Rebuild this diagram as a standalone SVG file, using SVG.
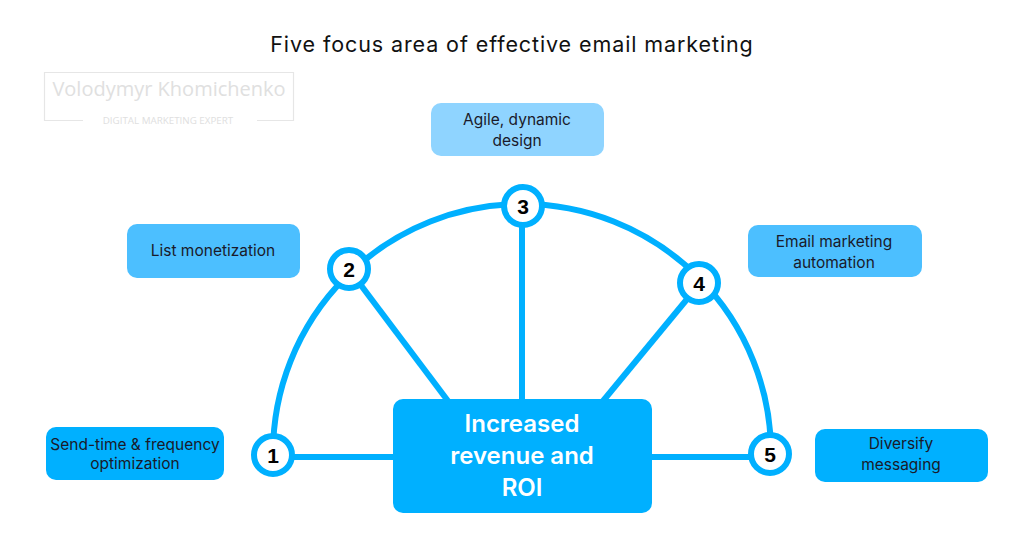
<svg xmlns="http://www.w3.org/2000/svg" width="1024" height="536" viewBox="0 0 1024 536">
<style>
.ln{fill:none;stroke:#00b0ff;stroke-width:6}
.nd{fill:#fff;stroke:#00b0ff;stroke-width:6}
.num{font-family:"Liberation Sans",Arial,sans-serif;font-weight:bold;font-size:21px;fill:#000;text-anchor:middle}
.lb{font-family:"Inter","Noto Sans",sans-serif;font-size:15.5px;fill:#1a1a2a;text-anchor:middle}
.ct{font-family:"Inter","Noto Sans",sans-serif;font-weight:600;font-size:24px;fill:#fff;text-anchor:middle}
</style>
<rect width="1024" height="536" fill="#fff"/>
<text x="512" y="52" font-family="Inter,'Noto Sans',sans-serif" font-size="21.5" letter-spacing="0.9" fill="#111" text-anchor="middle">Five focus area of effective email marketing</text>
<g id="watermark" fill="none" stroke="#e6e6e6" stroke-width="1.2">
<path d="M83 120.5 H44.5 V72.5 H293.5 V120.5 H257"/>
<text x="169" y="96" font-family="'Open Sans','Noto Sans',sans-serif" font-size="20" fill="#e0e0e0" stroke="none" text-anchor="middle">Volodymyr Khomichenko</text>
<text x="168" y="124" font-family="'Open Sans','Noto Sans',sans-serif" font-size="9.8" fill="#e0e0e0" stroke="none" text-anchor="middle">DIGITAL MARKETING EXPERT</text>
</g>
<g id="connectors">
<path class="ln" d="M273 453 A249 249 0 0 1 771 453"/>
<line class="ln" x1="273" y1="457" x2="395" y2="457"/>
<line class="ln" x1="650" y1="457" x2="771" y2="457"/>
<line class="ln" x1="351" y1="272" x2="448" y2="401"/>
<line class="ln" x1="522" y1="204" x2="522" y2="401"/>
<line class="ln" x1="702" y1="281" x2="603" y2="401"/>
</g>
<g id="center">
<rect x="393" y="399" width="259" height="114" rx="10" fill="#00b0ff"/>
<text class="ct" x="522" y="432">Increased</text>
<text class="ct" x="522" y="464">revenue and</text>
<text class="ct" x="522" y="496">ROI</text>
</g>
<g id="n1"><circle class="nd" cx="273" cy="455" r="19"/><text class="num" x="273" y="463">1</text></g>
<g id="n2"><circle class="nd" cx="349" cy="269" r="19"/><text class="num" x="349" y="277">2</text></g>
<g id="n3"><circle class="nd" cx="523" cy="206" r="19"/><text class="num" x="523" y="214">3</text></g>
<g id="n4"><circle class="nd" cx="699" cy="283" r="19"/><text class="num" x="699" y="291">4</text></g>
<g id="n5"><circle class="nd" cx="770" cy="454" r="19"/><text class="num" x="770" y="462">5</text></g>
<g id="b1"><rect x="46" y="427" width="178" height="53" rx="10" fill="#00b0ff"/><text class="lb" x="135" y="450">Send-time &amp; frequency</text><text class="lb" x="135" y="469">optimization</text></g>
<g id="b2"><rect x="127" y="224" width="173" height="54" rx="10" fill="#4cbfff"/><text class="lb" x="213" y="256" font-size="16.5">List monetization</text></g>
<g id="b3"><rect x="431" y="103" width="173" height="53" rx="10" fill="#8fd4ff"/><text class="lb" x="517" y="125" font-size="16.5">Agile, dynamic</text><text class="lb" x="517" y="146" font-size="16.5">design</text></g>
<g id="b4"><rect x="748" y="225" width="174" height="52" rx="10" fill="#4cbfff"/><text class="lb" x="834" y="247" font-size="16.5">Email marketing</text><text class="lb" x="834" y="268" font-size="16.5">automation</text></g>
<g id="b5"><rect x="815" y="429" width="173" height="53" rx="10" fill="#00b0ff"/><text class="lb" x="901" y="449" font-size="16.5">Diversify</text><text class="lb" x="901" y="470" font-size="16.5">messaging</text></g>
</svg>
